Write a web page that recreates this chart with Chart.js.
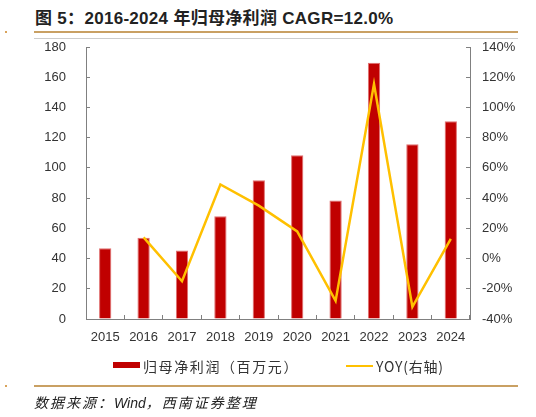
<!DOCTYPE html>
<html>
<head>
<meta charset="utf-8">
<script src="https://cdn.jsdelivr.net/npm/chart.js@4"></script>
<style>
  body { margin: 0; background: #fff; }
  #wrap { position: relative; width: 536px; height: 417px; overflow: hidden; }
  #chart { position: absolute; left: 0; top: 0; }
  .t { position: absolute; white-space: nowrap; color: #222; }
  .rule { position: absolute; left: 34px; width: 484px; height: 2px; background: #C9A063; }
  .dot { position: absolute; left: 5px; width: 2px; height: 2px; background: #D9A35A; }
</style>
</head>
<body>
<div id="wrap">
  <div class="t" id="title" style="left:35px; top:4px; font: bold 17px 'Liberation Sans','Noto Sans CJK SC',sans-serif; letter-spacing:0.3px;">图 5：2016-2024 年归母净利润 CAGR=12.0%</div>
  <div class="dot" style="top:31px"></div>
  <div class="rule" style="top:31px"></div>
  <div style="position:absolute; left:34px; top:38px; width:484px; height:1px; background:#ccc"></div>
  <canvas id="chart" width="536" height="417"></canvas>
  <div style="position:absolute; left:113px; top:362px; width:27px; height:6px; background:#C00000"></div>
  <div class="t" style="left:143px; top:356px; font: 14px 'Noto Sans CJK SC',sans-serif; color:#333; letter-spacing:1.6px">归母净利润（百万元）</div>
  <div style="position:absolute; left:346px; top:365px; width:27px; height:2px; background:#FFC000"></div>
  <div class="t" style="left:376px; top:356px; font: 14px 'Noto Sans CJK SC',sans-serif; color:#333; letter-spacing:0.8px">YOY(右轴)</div>
  <div class="dot" style="top:385px"></div>
  <div class="rule" style="top:385px"></div>
  <div class="t" style="left:34px; top:392px; font: italic 14px 'Liberation Sans','Noto Sans CJK SC',sans-serif; color:#222; letter-spacing:2px">数据来源：<span style="letter-spacing:0">Wind</span>，西南证券整理</div>
</div>
<script>
const years = ['2015', '2016', '2017', '2018', '2019', '2020', '2021', '2022', '2023', '2024'];
const netProfit = [46.8, 53.7, 45.4, 68.0, 91.8, 108.3, 78.5, 169.5, 115.6, 130.8];
const yoy = [null, 14, -15, 49, 35, 18, -28, 115.5, -32, 13];
const leftTicks = [0, 20, 40, 60, 80, 100, 120, 140, 160, 180];
const rightTicks = [-40, -20, 0, 20, 40, 60, 80, 100, 120, 140];

const axisColor = '#808080';
const tickFont = { family: 'Liberation Sans', size: 13 };

const ctx = document.getElementById('chart').getContext('2d');
new Chart(ctx, {
    type: 'bar',
    data: {
        labels: years,
        datasets: [{
            type: 'line',
            label: 'YOY(右轴)',
            data: yoy,
            yAxisID: 'y2',
            borderColor: '#FFC000',
            borderWidth: 2.5,
            pointRadius: 0,
            tension: 0,
            order: 0
        }, {
            label: '归母净利润（百万元）',
            data: netProfit,
            yAxisID: 'y',
            backgroundColor: '#C00000',
            borderColor: '#E07070',
            borderWidth: { left: 1, right: 1, top: 1, bottom: 0 },
            barPercentage: 0.32,
            categoryPercentage: 1,
            order: 1
        }]
    },
    options: {
        responsive: false,
        animation: false,
        layout: { padding: { left: 0, right: 0, top: 47, bottom: 0 } },
        plugins: { legend: { display: false }, tooltip: { enabled: false } },
        scales: {
            x: {
                offset: true,
                grid: { offset: true, drawOnChartArea: false, drawTicks: true, tickLength: -4, color: axisColor },
                border: { color: axisColor },
                ticks: { padding: 15, color: '#333', font: tickFont, maxRotation: 0 },
                afterFit: s => { s.height = 98; }
            },
            y: {
                position: 'left',
                min: 0, max: 180,
                afterBuildTicks: s => { s.ticks = leftTicks.map(v => ({ value: v })); },
                grid: { drawOnChartArea: false, tickLength: -4, color: axisColor },
                border: { color: axisColor },
                ticks: { padding: 24, color: '#333', font: tickFont },
                afterFit: s => { s.width = 86; }
            },
            y2: {
                position: 'right',
                min: -40, max: 140,
                afterBuildTicks: s => { s.ticks = rightTicks.map(v => ({ value: v })); },
                grid: { drawOnChartArea: false, tickLength: -4, color: axisColor },
                border: { color: axisColor },
                ticks: { padding: 16, color: '#333', font: tickFont, callback: v => `${v}%` },
                afterFit: s => { s.width = 66; }
            }
        }
    }
});
</script>
</body>
</html>
